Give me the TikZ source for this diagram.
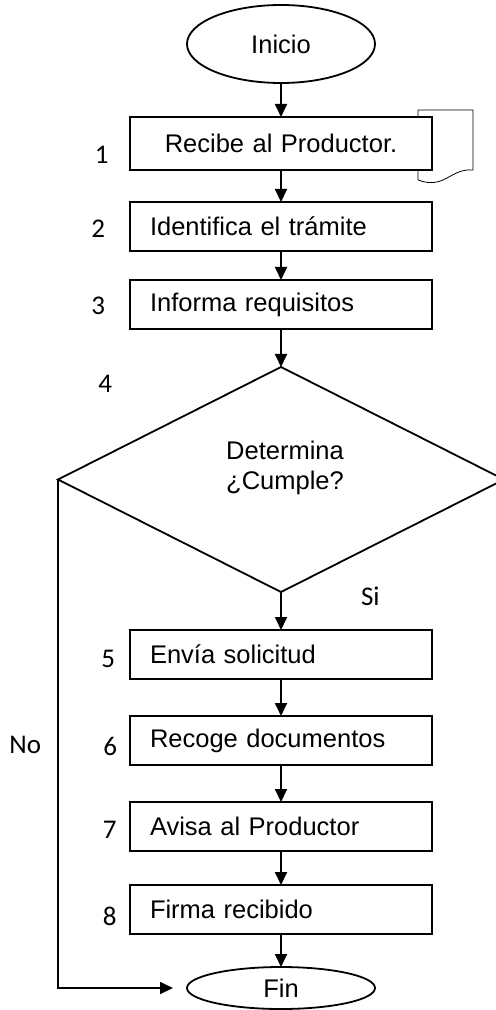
\documentclass[tikz,border=0pt]{standalone}
\usepackage{fontspec}
\setmainfont{Liberation Sans}
\newfontfamily\numfont{Carlito}
\usetikzlibrary{positioning,arrows.meta,shapes.geometric,backgrounds}

\begin{document}
\begin{tikzpicture}[>={Triangle[width=6pt,length=6.5pt]}, line width=0.9pt,
    every node/.style={font=\fontsize{12.75pt}{15pt}\selectfont, outer sep=0pt},
    term/.style={draw, ellipse, minimum width=94pt, inner sep=0pt},
    proc/.style={draw, fill=white, minimum width=151pt, minimum height=24.5pt, text width=131pt, align=left, inner xsep=10pt, inner ysep=0pt},
    num/.style={font=\numfont\fontsize{13.5pt}{15pt}\selectfont, inner sep=0pt}]
    % flow of the procedure, top to bottom
    \useasboundingbox (0,0) rectangle (248pt,-505pt);
    \node[term, minimum height=39pt] (ini) at (140.5pt,-22pt) {Inicio};
    \node[proc, align=center, minimum height=26.5pt, below=17pt of ini] (b1) {Recibe al Productor.};
    \node[proc, below=16pt of b1] (b2) {Identifica el trámite};
    \node[proc, below=14.5pt of b2] (b3) {Informa requisitos};
    \node[draw, diamond, minimum width=223pt, minimum height=112.5pt, inner sep=0pt, below=19pt of b3,
          label={[align=center, xshift=2pt, yshift=6pt]center:Determina\\¿Cumple?}] (dec) {};
    \node[proc, below=19pt of dec] (b5) {Envía solicitud};
    \node[proc, below=18.5pt of b5] (b6) {Recoge documentos};
    \node[proc, below=18.5pt of b6] (b7) {Avisa al Productor};
    \node[proc, below=17pt of b7] (b8) {Firma recibido};
    \node[term, minimum height=21pt, below=16.5pt of b8] (fin) {Fin};

    % document symbol behind the first step
    \begin{scope}[on background layer]
      \draw ([shift={(-7pt,-31.5pt)}]b1.north east) -- ([shift={(-7pt,3.5pt)}]b1.north east)
        -- ([shift={(20.5pt,3.5pt)}]b1.north east) -- ([shift={(20.5pt,-26.5pt)}]b1.north east)
        .. controls ([shift={(9pt,-25.5pt)}]b1.north east) and ([shift={(6.5pt,-36.5pt)}]b1.north east)
        .. ([shift={(-7pt,-31.5pt)}]b1.north east);
    \end{scope}

    % step numbers
    \node[num, left=10.75pt of b1, yshift=-5.75pt] (n1) {1};
    \node[num, left=12.5pt of b2, yshift=-1.25pt] (n2) {2};
    \node[num, left=12.5pt of b3, yshift=-0.75pt] (n3) {3};
    \node[num, below left=4pt and 84.5pt of dec.north] (n4) {4};
    \node[num, left=7.5pt of b5, yshift=-2.25pt] (n5) {5};
    \node[num, left=6.5pt of b6, yshift=-3pt] (n6) {6};
    \node[num, left=6.75pt of b7, yshift=-1.75pt] (n7) {7};
    \node[num, left=6.75pt of b8, yshift=-3.5pt] (n8) {8};

    \draw[->] (ini) -- (b1);
    \draw[->] (b1) -- (b2);
    \draw[->] (b2) -- (b3);
    \draw[->] (b3) -- (dec);
    \draw[->] (dec) -- node[num, pos=0.1, right=40pt] (si) {Si} (b5);
    \draw[->] (b5) -- (b6);
    \draw[->] (b6) -- (b7);
    \draw[->] (b7) -- (b8);
    \draw[->] (b8) -- (fin);
    \draw[->, shorten >=7pt] (dec.west) |- node[num, pos=0.261, left=8.5pt] (no) {No} (fin.west);
  \end{tikzpicture}
\end{document}
